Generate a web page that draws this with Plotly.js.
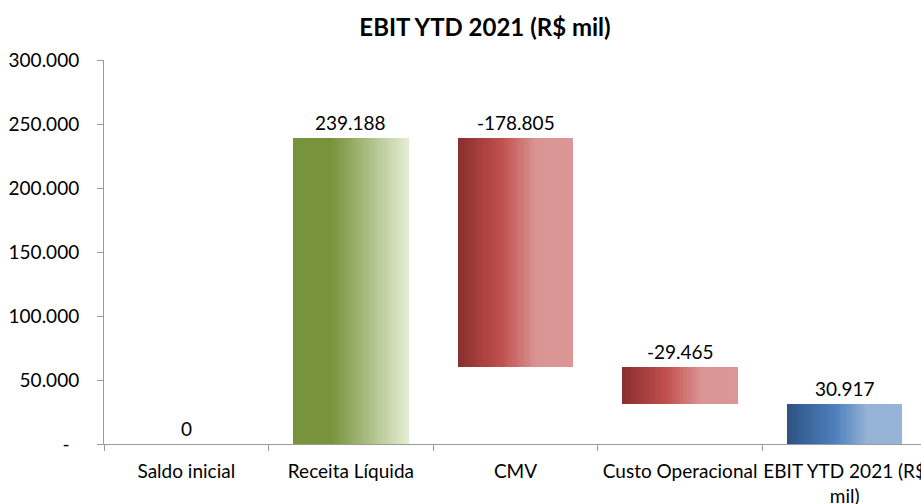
<!DOCTYPE html>
<html>
<head>
<meta charset="utf-8">
<script src="https://cdn.plot.ly/plotly-3.0.1.min.js"></script>
<style>
  html, body { margin: 0; padding: 0; overflow: hidden; background: #fff; }
  #grafico { width: 927px; height: 504px; }
</style>
</head>
<body>
<div id="grafico"></div>
<script>
// dados do waterfall (R$ mil)
const categorias = ['Saldo inicial', 'Receita Líquida', 'CMV', 'Custo Operacional', 'EBIT YTD 2021 (R$<br>mil)'];
const variacoes = [0, 239188, -178805, -29465, 30917];
const rotulos = ['0', '239.188', '-178.805', '-29.465', '30.917'];
const ehTotal = [false, false, false, false, true];

const yTicks = [0, 50000, 100000, 150000, 200000, 250000, 300000];
const yTickText = ['-\u00a0\u00a0', '50.000', '100.000', '150.000', '200.000', '250.000', '300.000'];

// gradientes horizontais de cada barra
const gradVerde = [[0, '#77933C'], [0.33, '#77933C'], [1, '#E4EDD3']];
const gradVermelho = [[0, '#8A2E2E'], [0.38, '#C0504D'], [0.68, '#D99594'], [1, '#DA9795']];
const gradAzul = [[0, '#2D5282'], [0.42, '#4F81BD'], [0.7, '#95B3D7'], [1, '#96B4D8']];

const fonte = 'Lato, "Open Sans", sans-serif';

function hexRgb(h) {
    return [parseInt(h.substr(1, 2), 16), parseInt(h.substr(3, 2), 16), parseInt(h.substr(5, 2), 16)];
}

function corNoGradiente(grad, t) {
    for (let i = 0; i < grad.length - 1; i++) {
        const a = grad[i], b = grad[i + 1];
        if (t >= a[0] && t <= b[0]) {
            const f = (b[0] === a[0]) ? 0 : (t - a[0]) / (b[0] - a[0]);
            const ca = hexRgb(a[1]), cb = hexRgb(b[1]);
            const c = ca.map((v, k) => Math.round(v + (cb[k] - v) * f));
            return 'rgb(' + c.join(',') + ')';
        }
    }
    return grad[grad.length - 1][1];
}

// calcula base e altura de cada barra
const bases = [], alturas = [];
let acumulado = 0;
for (let i = 0; i < variacoes.length; i++) {
    const v = variacoes[i];
    if (ehTotal[i]) {
        bases.push(0);
        alturas.push(v);
        acumulado = v;
    } else {
        const novo = acumulado + v;
        bases.push(Math.min(acumulado, novo));
        alturas.push(Math.abs(v));
        acumulado = novo;
    }
}

// cada barra vira varias fatias finas para simular o degrade
const larguraBarra = 0.7;
const fatias = 48;
const px = [], pBase = [], pY = [], pOffset = [], pWidth = [], pCor = [];

for (let i = 0; i < categorias.length; i++) {
    if (alturas[i] === 0) continue;
    let grad;
    if (ehTotal[i]) grad = gradAzul;
    else if (variacoes[i] >= 0) grad = gradVerde;
    else grad = gradVermelho;
    const w = larguraBarra / fatias;
    for (let k = 0; k < fatias; k++) {
        px.push(categorias[i]);
        pBase.push(bases[i]);
        pY.push(alturas[i]);
        pOffset.push(-larguraBarra / 2 + k * w);
        pWidth.push(k < fatias - 1 ? w * 1.6 : w);
        pCor.push(corNoGradiente(grad, (k + 0.5) / fatias));
    }
}

const tracoBarras = {
    type: 'bar',
    x: px,
    y: pY,
    base: pBase,
    offset: pOffset,
    width: pWidth,
    marker: { color: pCor, line: { width: 0 } },
    hoverinfo: 'skip',
    showlegend: false
};

const anotacoes = categorias.map((c, i) => ({
    x: c,
    y: bases[i] + alturas[i],
    xref: 'x', yref: 'y',
    text: rotulos[i],
    showarrow: false,
    yanchor: 'bottom',
    yshift: 2,
    font: { family: fonte, size: 19, color: '#000' }
}));

const layout = {
    width: 927,
    height: 504,
    margin: { l: 104, r: 0, t: 60, b: 60 },
    paper_bgcolor: '#fff',
    plot_bgcolor: '#fff',
    bargap: 0,
    barmode: 'overlay',
    font: { family: fonte, size: 19, color: '#000' },
    title: {
        text: '<b>EBIT YTD 2021 (R$ mil)</b>',
        xref: 'container', x: 485 / 927, xanchor: 'center',
        yref: 'container', y: 1 - 28 / 504, yanchor: 'middle',
        font: { family: fonte, size: 24, color: '#000' }
    },
    xaxis: {
        type: 'category',
        categoryorder: 'array',
        categoryarray: categorias,
        range: [-0.5, categorias.length - 0.5],
        showline: true, linecolor: '#9a9a9a', linewidth: 1,
        ticks: 'outside', tickson: 'boundaries', ticklen: 6, tickcolor: '#9a9a9a',
        tickangle: 0,
        ticklabelstandoff: 10,
        showgrid: false, zeroline: false,
        tickfont: { family: fonte, size: 19, color: '#000' }
    },
    yaxis: {
        range: [0, 300000],
        tickvals: yTicks,
        ticktext: yTickText,
        showline: true, linecolor: '#9a9a9a', linewidth: 1,
        ticks: 'outside', ticklen: 6, tickcolor: '#9a9a9a',
        ticklabelstandoff: 14,
        showgrid: false, zeroline: false,
        tickfont: { family: fonte, size: 19, color: '#000' }
    },
    annotations: anotacoes
};

Plotly.newPlot('grafico', [tracoBarras], layout, { displayModeBar: false, staticPlot: true });
</script>
</body>
</html>
